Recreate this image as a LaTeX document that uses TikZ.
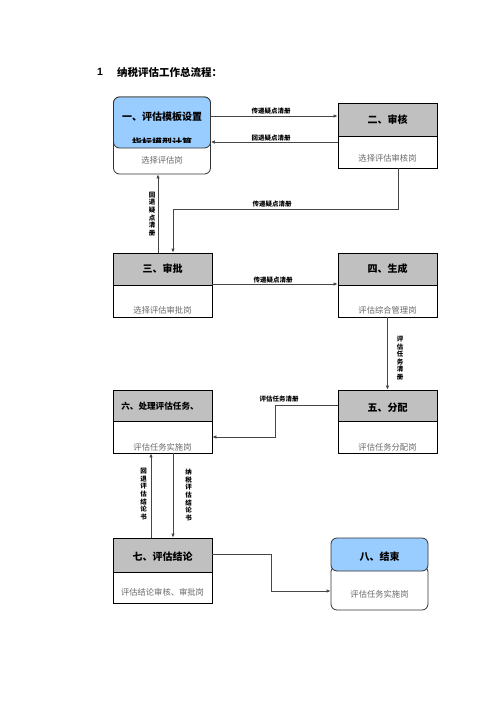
\documentclass[tikz,border=0pt]{standalone}
\usepackage{fontspec}
\newfontfamily\cjk{Noto Sans CJK SC}
\newfontfamily\arialf{Liberation Sans}
\usetikzlibrary{arrows.meta}
\definecolor{hdrgray}{RGB}{192,192,192}
\definecolor{hdrblue}{RGB}{153,204,255}
\definecolor{subtxt}{RGB}{105,105,105}
\definecolor{linec}{RGB}{70,70,70}
\tikzset{
  hdr/.style={draw=black, line width=0.8pt, fill=hdrgray, minimum width=99pt, inner sep=0pt},
  bdy/.style={draw=black, line width=0.8pt, fill=white, minimum width=99pt, inner sep=0pt},
  rhdr/.style={draw=black!80, line width=0.8pt, fill=hdrblue, rounded corners=6pt, minimum width=97pt, inner sep=0pt},
  rbdy/.style={draw=black!80, line width=0.8pt, fill=white, rounded corners=6pt, minimum width=97pt, inner sep=0pt},
  htxt/.style={font=\cjk\bfseries\fontsize{10}{12}\selectfont, inner sep=0pt},
  sub/.style={font=\cjk\fontsize{8.3}{10}\selectfont, text=subtxt, inner sep=0pt},
  lbl/.style={font=\cjk\bfseries\fontsize{6.5}{7.6}\selectfont, inner sep=0pt, align=center},
  conn/.style={draw=linec, line width=1pt, -{Latex[length=4pt,width=3.6pt]}},
}
\begin{document}
\begin{tikzpicture}[x=1pt,y=-1pt]
\useasboundingbox (0,0) rectangle (496,702);

% title
\node[font=\arialf\bfseries\fontsize{10.5}{12}\selectfont, inner sep=0pt] (num) at (100,72) {1};
\node[font=\cjk\bfseries\fontsize{10.5}{12}\selectfont, inner sep=0pt, anchor=west] (title) at (117,72) {纳税评估工作总流程：};

% box 1
\node[rbdy, minimum height=77pt] (b1) at (162,135.5) {};
\node[rhdr, minimum height=51pt] (h1) at (162,122.5) {};
\node[htxt] (h1a) at (162,117) {一、评估模板设置};
\begin{scope}
  \clip (113,130) rectangle (211,142.8);
  \node[htxt] (h1b) at (162,142.5) {指标模型计算};
\end{scope}
\node[sub] (t1) at (162,160) {选择评估岗};

% box 2
\node[hdr, minimum height=33pt] (h2) at (387.5,119.5) {};
\node[bdy, minimum height=32pt] (b2) at (387.5,152) {};
\node[htxt] (h2t) at (387.5,120) {二、审核};
\node[sub] (t2) at (387.5,158) {选择评估审核岗};

% box 3
\node[hdr, minimum height=32pt] (h3) at (162.5,269) {};
\node[bdy, minimum height=32pt] (b3) at (162.5,301) {};
\node[htxt] (h3t) at (162.5,268.5) {三、审批};
\node[sub] (t3) at (162.5,310) {选择评估审批岗};

% box 4
\node[hdr, minimum height=32pt] (h4) at (387.5,269) {};
\node[bdy, minimum height=32pt] (b4) at (387.5,301) {};
\node[htxt] (h4t) at (387.5,268.5) {四、生成};
\node[sub] (t4) at (387.5,310) {评估综合管理岗};

% box 5
\node[hdr, minimum height=31pt] (h5) at (387.5,405.5) {};
\node[bdy, minimum height=32pt] (b5) at (387.5,437) {};
\node[htxt] (h5t) at (387.5,408) {五、分配};
\node[sub] (t5) at (387.5,447) {评估任务分配岗};

% box 6
\node[hdr, minimum height=31pt] (h6) at (162.5,405.5) {};
\node[bdy, minimum height=32pt] (b6) at (162.5,437) {};
\node[htxt, font=\cjk\bfseries\fontsize{8.6}{10}\selectfont] (h6t) at (160,406) {六、处理评估任务、};
\node[sub] (t6) at (162.5,447) {评估任务实施岗};

% box 7
\node[hdr, minimum height=34pt] (h7) at (162.5,555) {};
\node[bdy, minimum height=31pt] (b7) at (162.5,587.5) {};
\node[htxt] (h7t) at (162.5,557) {七、评估结论};
\node[sub] (t7) at (162.5,592) {评估结论审核、审批岗};

% box 8
\node[rbdy, minimum height=44pt] (b8) at (379.5,588) {};
\node[rhdr, minimum height=33pt] (h8) at (379.5,554.5) {};
\node[htxt] (h8t) at (379.5,557) {八、结束};
\node[sub] (t8) at (379.5,594) {评估任务实施岗};

% connectors
\draw[conn] (h1.east |- 0,116) -- (h2.west |- 0,116);
\node[lbl] (l1) at (271,111) {传递疑点清册};
\draw[conn] (b2.west |- 0,142) -- (h1.east |- 0,142);
\node[lbl] (l2) at (271,138) {回退疑点清册};

\draw[conn] (b2.south -| 398,0) |- (173,209) -- (h3.north -| 173,0);
\node[lbl] (l3) at (272,204) {传递疑点清册};

\draw[conn] (h3.north -| 158,0) -- (b1.south -| 158,0);
\node[lbl] (l4) at (152,214) {回\\退\\疑\\点\\清\\册};

\draw[conn] (h3.east |- 0,284) -- (h4.west |- 0,284);
\node[lbl] (l5) at (273,280) {传递疑点清册};

\draw[conn] (b4.south) -- (h5.north);
\node[lbl] (l6) at (400,358) {评\\估\\任\\务\\清\\册};

\draw[conn] (h5.west |- 0,405) -| (275,437) -- (b6.east |- 0,437);
\node[lbl] (l7) at (279,399) {评估任务清册};

\draw[conn] (h7.north -| 151,0) -- (b6.south -| 151,0);
\node[lbl] (l8) at (143.5,494) {回\\退\\评\\估\\结\\论\\书};
\draw[conn] (b6.south -| 173,0) -- (h7.north -| 173,0);
\node[lbl] (l9) at (188.5,495) {纳\\税\\评\\估\\结\\论\\书};

\draw[conn] (h7.east |- 0,554) -| (271,591) -- (b8.west |- 0,591);
\end{tikzpicture}
\end{document}
